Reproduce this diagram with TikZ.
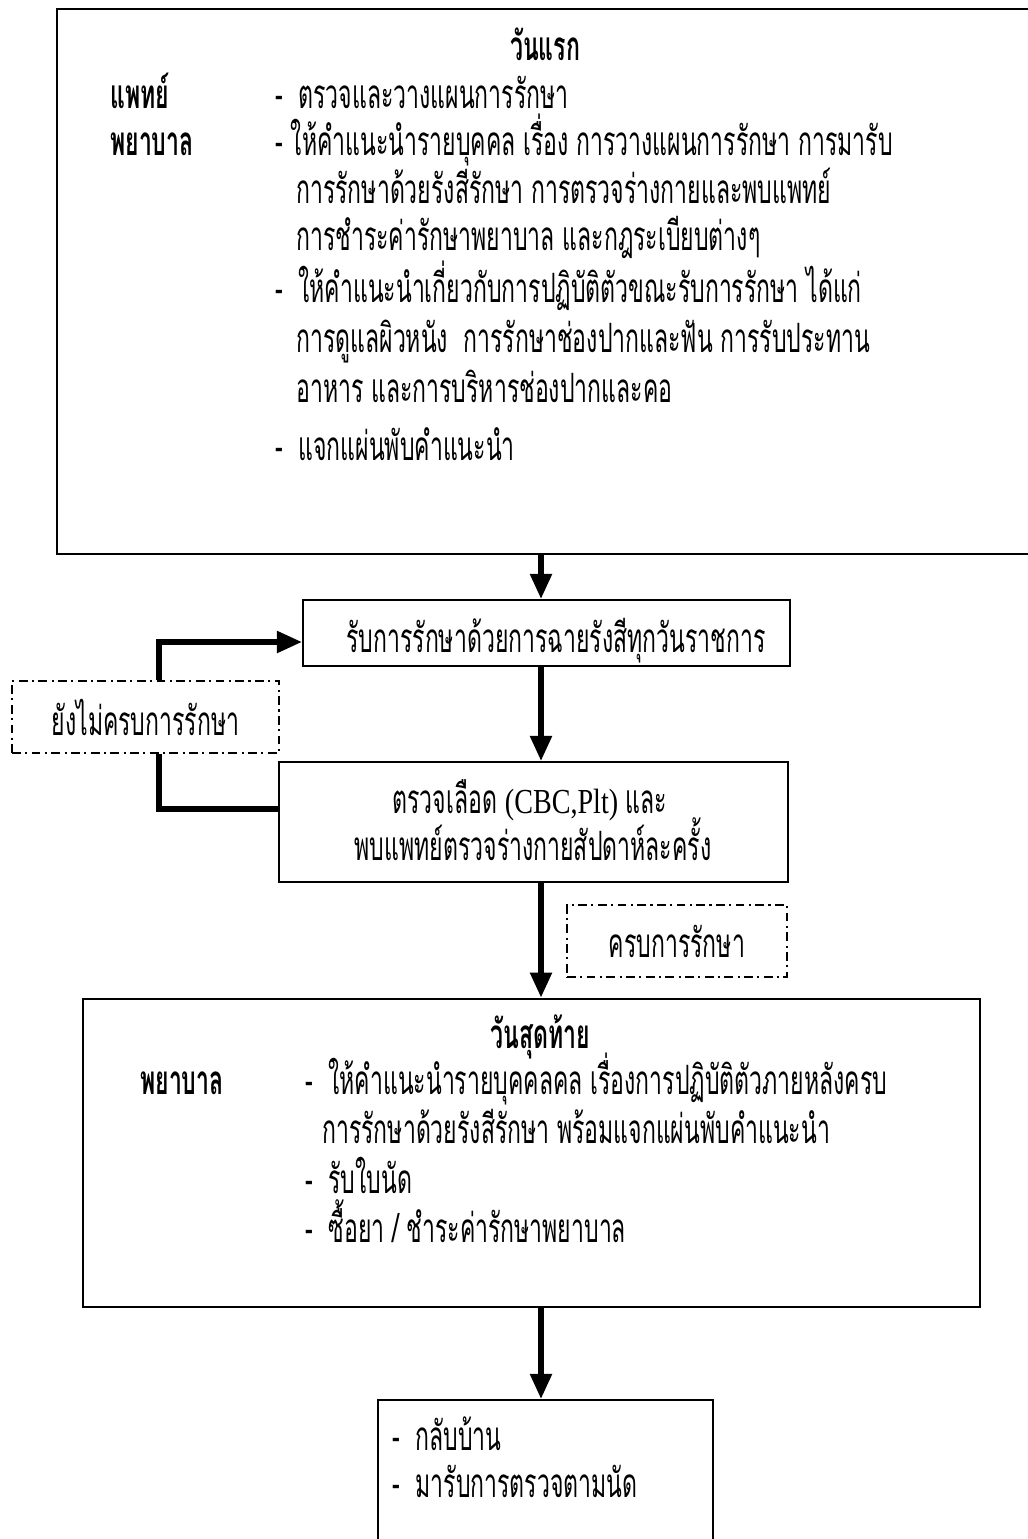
\documentclass[tikz,border=0pt]{standalone}
\usepackage{fontspec}
\setmainfont{Liberation Serif}
\newfontfamily\thaifont[Script=Thai,FakeStretch=0.57]{Loma}
\newfontfamily\latinfont[FakeStretch=0.8]{Liberation Serif}
\usetikzlibrary{arrows.meta,positioning,fit,calc}

\begin{document}
\begin{tikzpicture}[
  x=0.02cm,y=-0.02cm,
  box/.style={rectangle,draw,line width=1.2pt,inner sep=0pt},
  bigbox/.style={box,line width=1.6pt},
  dashbox/.style={rectangle,draw,line width=0.8pt,dash pattern=on 5pt off 2.5pt on 1.2pt off 2.5pt,
    inner sep=0pt,minimum height=1.44cm,font=\thaifont\fontsize{23}{26}\selectfont},
  txt/.style={anchor=base west,inner sep=0pt,font=\thaifont\fontsize{23}{26}\selectfont},
  ctxt/.style={txt,anchor=base},
  role/.style={txt,font=\thaifont\bfseries\fontsize{23}{26}\selectfont},
  head/.style={role,anchor=base},
  flow/.style={line width=3pt},
  arrow/.style={flow,-{Triangle[length=5mm,width=4.2mm]}},
]
\useasboundingbox (0,0) rectangle (1028,1539);

% Boxes
\node[bigbox,fit={(57,9) (1045,554)}] (first) {};
\node[box,fit={(303,600) (790,666)}] (daily) {};
\node[box,fit={(279,762) (788,882)}] (check) {};
\node[bigbox,fit={(83,999) (980,1307)}] (last) {};
\node[box,fit={(378,1400) (713,1550)}] (home) {};

% Dash-dot labels
\node[dashbox,minimum width=5.34cm] (notyet) at (145.5,717) {ยังไม่ครบการรักษา};
\node[dashbox,minimum width=4.4cm] (done) at (677,941) {ครบการรักษา};

% First day
\node[head] (firsthead) at (545,60) {วันแรก};
\node[role] (doc) at (110,108) {แพทย์};
\node[txt] (doc1) at (275,108) {-\ \ ตรวจและวางแผนการรักษา};
\node[role] (nurse) at (110,155) {พยาบาล};
\node[txt] (nurse1) at (275,155) {- ให้คำแนะนำรายบุคคล เรื่อง การวางแผนการรักษา การมารับ};
\node[txt] (nurse2) at (296,203) {การรักษาด้วยรังสีรักษา การตรวจร่างกายและพบแพทย์};
\node[txt] (nurse3) at (296,250) {การชำระค่ารักษาพยาบาล และกฎระเบียบต่างๆ};
\node[txt] (nurse4) at (275,302) {-\ \ ให้คำแนะนำเกี่ยวกับการปฏิบัติตัวขณะรับการรักษา ได้แก่};
\node[txt] (nurse5) at (296,352) {การดูแลผิวหนัง\ \ การรักษาช่องปากและฟัน การรับประทาน};
\node[txt] (nurse6) at (296,402) {อาหาร และการบริหารช่องปากและคอ};
\node[txt] (nurse7) at (275,460) {-\ \ แจกแผ่นพับคำแนะนำ};

% Treatment
\node[ctxt] (dailytxt) at (556,652) {รับการรักษาด้วยการฉายรังสีทุกวันราชการ};
\node[ctxt] (check1) at (530,813) {ตรวจเลือด {\latinfont\fontsize{20}{22}\selectfont(CBC,Plt)} และ};
\node[ctxt] (check2) at (533,860) {พบแพทย์ตรวจร่างกายสัปดาห์ละครั้ง};

% Last day
\node[head] (lasthead) at (540,1048) {วันสุดท้าย};
\node[role] (nurseb) at (140,1094) {พยาบาล};
\node[txt] (last1) at (305,1094) {-\ \ ให้คำแนะนำรายบุคคลคล เรื่องการปฏิบัติตัวภายหลังครบ};
\node[txt] (last2) at (322,1143) {การรักษาด้วยรังสีรักษา พร้อมแจกแผ่นพับคำแนะนำ};
\node[txt] (last3) at (305,1193) {-\ \ รับใบนัด};
\node[txt] (last4) at (305,1242) {-\ \ ซื้อยา / ชำระค่ารักษาพยาบาล};

% Home
\node[txt] (home1) at (392,1450) {-\ \ กลับบ้าน};
\node[txt] (home2) at (392,1497) {-\ \ มารับการตรวจตามนัด};

% Arrows
\coordinate (spine) at (541,0);
\draw[arrow] (first.south -| spine) -- (daily.north -| spine);
\draw[arrow] (daily.south -| spine) -- (check.north -| spine);
\draw[arrow] (check.south -| spine) -- (last.north -| spine);
\draw[arrow] (last.south -| spine) -- (home.north -| spine);

% Loop back
\draw[flow] ([yshift=0.26cm]check.west) -| ([xshift=0.27cm]notyet.south);
\draw[arrow] ([xshift=0.27cm]notyet.north) |- ([yshift=-0.18cm]daily.west);

\end{tikzpicture}
\end{document}
